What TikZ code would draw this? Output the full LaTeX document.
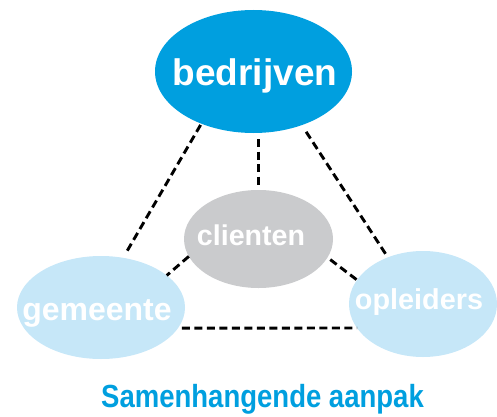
\documentclass[tikz,border=0pt]{standalone}
\usepackage{fontspec}
\setmainfont{Liberation Sans}
\usepackage{xcolor}
\usetikzlibrary{shapes.geometric}
\definecolor{bblue}{RGB}{0,159,223}
\definecolor{lblue}{RGB}{198,231,248}
\definecolor{cgray}{RGB}{202,203,205}

\begin{document}
\begin{tikzpicture}[x=1pt,y=1pt,
  blob/.style={ellipse, inner sep=0pt, outer sep=0pt},
  word/.style={anchor=base, text=white, inner sep=0pt},
  link/.style={line width=2.9pt, dash pattern=on 8pt off 4.5pt}]
  \useasboundingbox (0,0) rectangle (497,416);
  \node[blob, fill=bblue, minimum width=197pt, minimum height=123pt] (bedrijven) at (253.5,344.5) {};
  \node[blob, fill=cgray, minimum width=149pt, minimum height=98pt] (clienten) at (258.5,177) {};
  \node[blob, fill=lblue, minimum width=168pt, minimum height=103pt] (gemeente) at (101,108.5) {};
  \node[blob, fill=lblue, minimum width=148pt, minimum height=106pt] (opleiders) at (423,112) {};

  \node[word, font=\bfseries\fontsize{37pt}{40pt}\selectfont] (tbedrijven) at ([xshift=1.5pt,yshift=-13.5pt]bedrijven.center) {bedrijven};
  \node[word, font=\bfseries\fontsize{28.6pt}{30pt}\selectfont] (tclienten) at ([xshift=-7.5pt,yshift=-6.7pt]clienten.center) {clienten};
  \node[word, font=\bfseries\fontsize{32pt}{34pt}\selectfont] (tgemeente) at ([xshift=-4pt,yshift=-12.5pt]gemeente.center) {gemeente};
  \node[word, font=\bfseries\fontsize{28.8pt}{30pt}\selectfont] (topleiders) at ([xshift=-4pt,yshift=-5.3pt]opleiders.center) {opleiders};

  \draw[link, shorten <=1.5pt, shorten >=4pt] (bedrijven.225) -- (gemeente.66);
  \draw[link, shorten <=6pt, shorten >=3pt] (clienten.north |- bedrijven.south) -- (clienten.north);
  \draw[link, shorten <=8pt] (bedrijven.312) -- (opleiders.127.5);
  \draw[link] (clienten.194.5) -- (gemeente.26.2);
  \draw[link, shorten <=3.5pt] (clienten.345.3) -- (opleiders.160);
  \draw[link, shorten <=4pt] (gemeente.345) -- (opleiders.200);

  \node[anchor=base, text=bblue, inner sep=0pt, font=\bfseries\fontsize{32pt}{34pt}\selectfont] (titel) at (262.5,9) {\scalebox{0.86}[1]{Samenhangende aanpak}};
\end{tikzpicture}
\end{document}
